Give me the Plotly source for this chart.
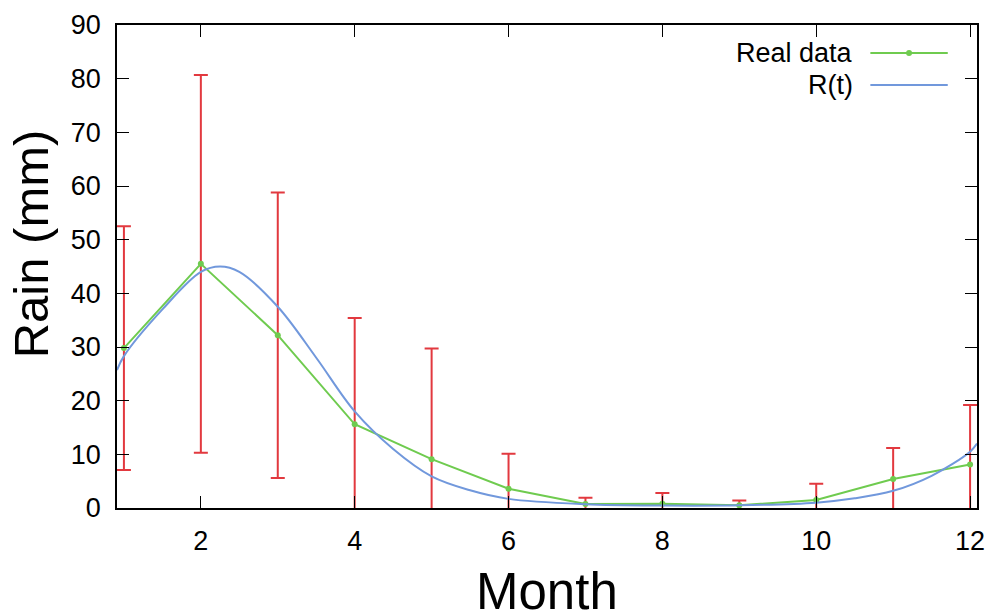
import plotly.graph_objects as go

# Monthly rainfall: mean and standard deviation per month
months = [1, 2, 3, 4, 5, 6, 7, 8, 9, 10, 11, 12]
rain_mean = [29.8, 45.5, 32.2, 15.6, 9.1, 3.6, 0.75, 0.8, 0.5, 1.5, 5.4, 8.1]
rain_std = [22.7, 35.2, 26.6, 19.8, 20.6, 6.5, 1.15, 2.0, 0.9, 3.0, 5.8, 11.1]

# Fitted model R(t), sampled along the year
model_t = [0.91, 1.0, 1.5, 2.0, 2.25, 2.5, 3.0, 3.5, 4.0, 4.5, 5.0, 5.5, 6.0,
           7.0, 8.0, 9.0, 10.0, 10.5, 11.0, 11.5, 12.0, 12.09]
model_r = [25.7, 28.3, 37.0, 44.0, 45.0, 44.0, 37.5, 28.0, 18.0, 11.0, 5.9,
           3.3, 1.7, 0.7, 0.45, 0.5, 1.0, 1.8, 3.2, 6.0, 10.5, 12.0]

x_ticks = [2, 4, 6, 8, 10, 12]
y_ticks = [0, 10, 20, 30, 40, 50, 60, 70, 80, 90]

GREEN = "#6fcb4f"
BLUE = "#7198dc"
RED = "#e2393f"
FONT = "Liberation Sans, Arial, sans-serif"

fig = go.Figure()

# error bars first so the lines sit on top
fig.add_trace(go.Scatter(
    x=months, y=rain_mean, mode="markers",
    marker=dict(size=1, color="rgba(0,0,0,0)"),
    error_y=dict(type="data", array=rain_std, visible=True,
                 color=RED, thickness=2, width=7),
    showlegend=False, hoverinfo="skip",
))

fig.add_trace(go.Scatter(
    x=months, y=rain_mean, mode="lines+markers", name="Real data",
    line=dict(color=GREEN, width=2),
    marker=dict(size=6, color=GREEN),
    showlegend=False,
))

fig.add_trace(go.Scatter(
    x=model_t, y=model_r, mode="lines", name="R(t)",
    line=dict(color=BLUE, width=2, shape="spline", smoothing=1.0),
    showlegend=False,
))

axis_common = dict(
    showgrid=False, zeroline=False, showline=True, linecolor="black",
    linewidth=1.5, mirror="ticks", ticks="inside", ticklen=12,
    tickwidth=1, tickcolor="black", automargin=False,
    tickfont=dict(family=FONT, size=27, color="black"),
)

fig.update_xaxes(range=[0.91, 12.09], tickvals=x_ticks, ticklabelstandoff=8,
                 **axis_common)
fig.update_yaxes(range=[0, 90], tickvals=y_ticks, ticklabelstandoff=9,
                 **axis_common)

# Key in the top-right corner: label on the left, sample on the right
legend_rows = [("Real data", GREEN, True, 0.942), ("R(t)", BLUE, False, 0.876)]
shapes = []
annotations = []
for label, color, dot, yp in legend_rows:
    annotations.append(dict(
        text=label, xref="paper", yref="paper", x=0.858, y=yp,
        xanchor="right", yanchor="middle", showarrow=False,
        font=dict(family=FONT, size=27, color="black"),
    ))
    shapes.append(dict(type="line", xref="paper", yref="paper",
                       x0=0.876, x1=0.966, y0=yp, y1=yp,
                       line=dict(color=color, width=2)))
    if dot:
        shapes.append(dict(type="circle", xref="paper", yref="paper",
                           xsizemode="pixel", ysizemode="pixel",
                           xanchor=0.921, yanchor=yp,
                           x0=-3, x1=3, y0=-3, y1=3,
                           fillcolor=color, line=dict(color=color, width=0)))

annotations.append(dict(
    text="Month", xref="paper", yref="paper", x=0.5, y=-0.172,
    xanchor="center", yanchor="middle", showarrow=False,
    font=dict(family=FONT, size=51, color="black"),
))
annotations.append(dict(
    text="Rain (mm)", xref="paper", yref="paper", x=-0.1, y=0.546,
    xanchor="center", yanchor="middle", showarrow=False, textangle=-90,
    font=dict(family=FONT, size=49, color="black"),
))

fig.update_layout(
    width=994, height=616,
    margin=dict(l=117, r=17, t=25, b=108, autoexpand=False),
    paper_bgcolor="white", plot_bgcolor="white",
    shapes=shapes, annotations=annotations,
)

fig.write_html("out.html")
